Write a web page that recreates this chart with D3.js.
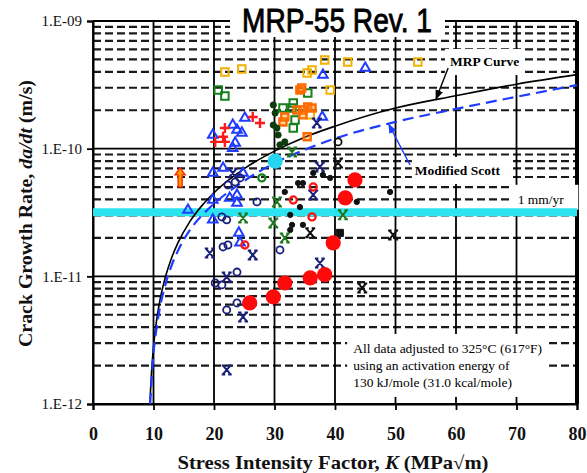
<!DOCTYPE html>
<html><head><meta charset="utf-8">
<script src="https://cdn.jsdelivr.net/npm/d3@7"></script>
<style>body{margin:0;background:#fff}svg{display:block}</style>
</head><body>
<svg id="c" width="587" height="473"></svg>
<script>
// ---------- data ----------
const xTicks = [0,10,20,30,40,50,60,70,80];
const yTickValues = [1e-9,1e-10,1e-11,1e-12];
const yTickLabels = ["1.E-09","1.E-10","1.E-11","1.E-12"];
const oneMmPerYr = 3.17e-11;

const mrpK    = [9.4,9.5,9.7,10,10.5,11,12,13,14,16,18,20,25,30,35,40,50,60,70,80];
const mrpRate = [1e-12,1.25e-12,1.85e-12,2.8e-12,4.48e-12,6.26e-12,1.0e-11,1.4e-11,1.81e-11,2.68e-11,3.58e-11,4.52e-11,6.98e-11,9.57e-11,1.23e-10,1.5e-10,2.08e-10,2.6e-10,3.2e-10,3.8e-10];
const scottK    = [9.45,10,10.5,11,12,13,14,16,18,20,25,30,35,40,50,60,70,80];
const scottRate = [1e-12,2.5e-12,3.9e-12,5.5e-12,8.7e-12,1.22e-11,1.57e-11,2.3e-11,3.0e-11,3.7e-11,5.6e-11,7.7e-11,9.8e-11,1.2e-10,1.62e-10,2.05e-10,2.55e-10,3.15e-10];

const yellowSq = [[21.8,3.99e-10],[24.6,4.21e-10],[38.3,4.95e-10],[42.1,4.77e-10],[36.2,4.13e-10],[35.4,3.92e-10],[39.2,2.88e-10],[35.9,1.84e-10],[53.7,4.77e-10]];
const orangeSq = [[34.2,2.88e-10],[34.5,2.99e-10],[35.5,2.12e-10],[33.7,2.01e-10],[34.7,2.01e-10],[36.2,2.08e-10],[31.4,1.62e-10],[31.7,1.77e-10],[34.7,1.84e-10],[35.4,1.24e-10]];
const greenSq = [[20.7,2.88e-10],[21.8,2.59e-10],[35.5,2.73e-10],[33.1,2.28e-10],[32.9,2.08e-10],[33.4,1.68e-10],[33.1,1.45e-10],[31.4,2.08e-10]];
const greenCirc = [[27.9,5.9e-11]];
const darkDots = [[29.8,2.2e-10],[30.1,1.9e-10],[29.8,1.53e-10],[30.4,1.45e-10],[30.6,1.28e-10],[31.7,1.13e-10],[30.9,1.07e-10]];
const blueTri = [[25.1,1.74e-10],[23.1,1.53e-10],[23.8,1.4e-10],[24.6,1.33e-10],[19.8,1.28e-10],[23.5,1.11e-10],[23.1,1.01e-10],[45.0,4.28e-10],[38.0,3.78e-10],[37.9,1.77e-10],[21.5,7.06e-11],[19.8,6.45e-11],[15.7,3.31e-11],[23.8,4.34e-11],[22.6,4.11e-11],[23.8,3.76e-11],[19.8,3.96e-11],[19.8,2.77e-11],[24.1,2.19e-11],[24.3,1.83e-11],[24.8,6.45e-11]];
const navyCirc = [[27.1,3.83e-11],[22.3,5.2e-11],[23.5,5.48e-11],[24.3,5.9e-11],[21.3,2.92e-11],[22.1,2.77e-11],[21.5,1.7e-11],[22.3,1.76e-11],[30.9,1.61e-11],[23.8,1.08e-11],[20.2,8.87e-12],[21.3,8.57e-12],[22.1,5.46e-12],[23.8,6.19e-12]];
const navyX = [[37.0,1.59e-10],[19.3,1.52e-11],[26.4,1.47e-11],[37.5,1.27e-11],[22.1,9.89e-12],[24.8,4.81e-12],[22.1,1.85e-12],[23.1,6.45e-11],[37.5,7.19e-11],[36.4,4.34e-11]];
const greenX = [[24.8,2.86e-11],[29.8,2.62e-11],[30.4,3.83e-11],[31.7,2.0e-11],[32.9,9.42e-11],[41.3,3.03e-11]];
const blackX = [[35.9,2.19e-11],[40.5,7.73e-11],[44.5,8.11e-12],[49.6,2.11e-11]];
const blackDots = [[36.4,6.45e-11],[38.0,6.22e-11],[39.2,5.9e-11],[34.7,5.38e-11],[33.9,5.38e-11],[31.7,4.58e-11],[32.6,3.03e-11],[32.9,2.53e-11],[34.7,2.53e-11],[32.6,2.31e-11],[34.2,3.49e-11],[43.6,3.83e-11],[49.1,4.58e-11]];
const blackCirc = [[40.5,1.13e-10]];
const blackSq = [[40.8,2.19e-11]];
const redCirc = [[36.2,2.92e-11],[33.1,3.96e-11],[36.4,5.01e-11],[25.1,1.76e-11]];
const redPlus = [[26.4,1.77e-10],[27.6,1.59e-10],[21.8,1.45e-10],[21.5,1.24e-10],[20.2,1.13e-10],[21.8,1.13e-10]];
const bigRed = [[25.9,6.19e-12],[29.8,6.9e-12],[31.7,8.87e-12],[35.9,9.71e-12],[38.3,1.03e-11],[39.7,1.83e-11],[41.7,4.11e-11],[43.3,5.69e-11]];
const cyanDot = [[30.1,8.0e-11]];
const orangeArrow = [[14.4,5.9e-11]];

// ---------- layout ----------
const L=93,R=577,T=21,B=404;
const serif = "'Liberation Serif','Times New Roman',Times,serif";
const svg = d3.select("#c");
svg.append("rect").attr("width",587).attr("height",473).attr("fill","#fff");
const x = d3.scaleLinear().domain([0,80]).range([L,R]);
const y = d3.scaleLog().domain([1e-12,1e-9]).range([B,T]);

// grid
const grid = svg.append("g");
const minor = y.ticks().filter(v => !yTickValues.some(t => Math.abs(v-t)/t < 1e-6));
grid.selectAll("line.mn").data(minor).join("line")
  .attr("x1",L).attr("x2",R).attr("y1",d=>y(d)).attr("y2",d=>y(d))
  .attr("stroke","#1a1a1a").attr("stroke-width",2.2).attr("stroke-dasharray","8,4");
grid.selectAll("line.mj").data(yTickValues).join("line")
  .attr("x1",L).attr("x2",R).attr("y1",d=>y(d)).attr("y2",d=>y(d))
  .attr("stroke","#000").attr("stroke-width",1.8);
grid.selectAll("line.v").data(xTicks).join("line")
  .attr("x1",d=>x(d)).attr("x2",d=>x(d)).attr("y1",T).attr("y2",B)
  .attr("stroke","#000").attr("stroke-width",d=>d===80?4:1.8);

// axes
const gx = svg.append("g").attr("transform",`translate(0,${B})`)
  .call(d3.axisBottom(x).tickValues(xTicks).tickSize(6).tickPadding(17).tickFormat(d3.format("d")));
const gy = svg.append("g").attr("transform",`translate(${L},0)`)
  .call(d3.axisLeft(y).tickValues(yTickValues).tickSize(6).tickPadding(5).tickFormat((d,i)=>yTickLabels[i]));
[gx,gy].forEach(g=>{
  g.select(".domain").attr("stroke","#000").attr("stroke-width",2);
  g.selectAll(".tick line").attr("stroke","#000").attr("stroke-width",1.8);
});
gx.selectAll("text").attr("font-family",serif).attr("font-size",18).attr("font-weight","bold").attr("fill","#111");
gy.selectAll("text").attr("font-family",serif).attr("font-size",15).attr("fill","#111");

// label backgrounds helper
const labels = svg.append("g");
function boxedText(g, tx, ty, lines, opt){
  const grp = g.append("g");
  const bg = grp.append("rect").attr("fill","#fff");
  const t = grp.append("text").attr("x",tx).attr("y",ty)
    .attr("font-family",serif).attr("font-size",opt.size).attr("font-weight",opt.weight||"normal")
    .attr("fill",opt.color||"#000");
  lines.forEach((ln,i)=>t.append("tspan").attr("x",tx).attr("dy",i?opt.lh:0).text(ln));
  const bb = t.node().getBBox();
  const p = opt.pad;
  bg.attr("x",bb.x-p[3]).attr("y",bb.y-p[0]).attr("width",bb.width+p[1]+p[3]).attr("height",bb.height+p[0]+p[2]);
  return grp;
}

// cyan 1 mm/yr line
svg.append("line").attr("x1",x(0)).attr("x2",x(80)).attr("y1",y(oneMmPerYr)).attr("y2",y(oneMmPerYr))
  .attr("stroke","#2de3ef").attr("stroke-width",8);

// white label boxes over grid
boxedText(labels, x(59.0), y(4.44e-10), ["MRP Curve"], {size:13.5, weight:"bold", pad:[5,5,6,5]});
boxedText(labels, x(53.2), y(6.22e-11), ["Modified Scott"], {size:13.5, weight:"bold", pad:[6,11,6,3]});
boxedText(labels, x(70.2), y(3.7e-11), ["1 mm/yr"], {size:13.5, pad:[7,14,3,5]});
boxedText(labels, x(43.0), y(2.51e-12), ["All data adjusted to 325°C (617°F)","using an activation energy of","130 kJ/mole (31.0 kcal/mole)"], {size:13.5, lh:17, pad:[7,7,7,6]});

// curves
const line = d3.line().x(d=>x(d[0])).y(d=>y(d[1])).curve(d3.curveMonotoneX);
svg.append("path").datum(mrpK.map((k,i)=>[k,mrpRate[i]])).attr("d",line)
  .attr("fill","none").attr("stroke","#000").attr("stroke-width",1.6);
svg.append("path").datum(scottK.map((k,i)=>[k,scottRate[i]])).attr("d",line)
  .attr("fill","none").attr("stroke","#1f3cff").attr("stroke-width",2.2).attr("stroke-dasharray","11,6");

// arrows
const defs = svg.append("defs");
[["ak","#000"],["ab","#1f3cff"]].forEach(([id,c])=>{
  defs.append("marker").attr("id",id).attr("viewBox","0 0 10 10").attr("refX",9).attr("refY",5)
    .attr("markerWidth",7).attr("markerHeight",7).attr("orient","auto")
    .append("path").attr("d","M0,1L10,5L0,9Z").attr("fill",c);
});
svg.append("line").attr("x1",x(58.7)).attr("y1",y(4.28e-10)).attr("x2",x(56.7)).attr("y2",y(2.45e-10))
  .attr("stroke","#000").attr("stroke-width",1.4).attr("marker-end","url(#ak)");
svg.append("line").attr("x1",x(52.4)).attr("y1",y(7.45e-11)).attr("x2",x(48.9)).attr("y2",y(1.55e-10))
  .attr("stroke","#1f3cff").attr("stroke-width",1.4).attr("marker-end","url(#ab)");

// markers
const mk = svg.append("g");
const pos = d => `translate(${x(d[0])},${y(d[1])})`;
function sym(data, type, size, stroke, fill, sw){
  mk.append("g").selectAll("path").data(data).join("path")
    .attr("transform",pos).attr("d",d3.symbol(type,size)())
    .attr("fill",fill).attr("stroke",stroke).attr("stroke-width",sw);
}
const xPath = "M-3.5,-4L3.5,4M3.5,-4L-3.5,4M-5,-4.5H-1.5M1.5,-4.5H5M-5,4.5H-1.5M1.5,4.5H5";
function xs(data, color){
  mk.append("g").selectAll("path").data(data).join("path")
    .attr("transform",pos).attr("d",xPath).attr("fill","none").attr("stroke",color).attr("stroke-width",2);
}
sym(yellowSq, d3.symbolSquare, 56, "#f2b100", "none", 2);
sym(greenSq, d3.symbolSquare, 56, "#16801c", "none", 2);
sym(orangeSq, d3.symbolSquare, 50, "#ff6a00", "rgba(255,140,0,0.35)", 2.4);
sym(darkDots, d3.symbolCircle, 30, "#0d3d0d", "#0d3d0d", 1);
sym(greenCirc, d3.symbolCircle, 40, "#16801c", "none", 2.2);
sym(blueTri, d3.symbolTriangle, 40, "#1f3cff", "none", 2);
sym(navyCirc, d3.symbolCircle, 40, "#1a1f7a", "none", 1.8);
xs(navyX, "#1a1f7a");
xs(greenX, "#1f7a1f");
xs(blackX, "#111");
sym(blackDots, d3.symbolCircle, 22, "#111", "#111", 1);
sym(blackCirc, d3.symbolCircle, 40, "#111", "none", 1.8);
sym(blackSq, d3.symbolSquare, 50, "#111", "#111", 1);
sym(redCirc, d3.symbolCircle, 40, "#ff1010", "none", 2.2);
mk.append("g").selectAll("path").data(redPlus).join("path")
  .attr("transform",pos).attr("d","M-5,0H5M0,-5V5").attr("stroke","#ff1a1a").attr("stroke-width",2.4);
mk.append("g").selectAll("circle").data(bigRed).join("circle")
  .attr("cx",d=>x(d[0])).attr("cy",d=>y(d[1])).attr("r",7.6).attr("fill","#ff0a0a");
mk.append("g").selectAll("circle").data(cyanDot).join("circle")
  .attr("cx",d=>x(d[0])).attr("cy",d=>y(d[1])).attr("r",7.6).attr("fill","#27d4ef");
mk.append("g").selectAll("path").data(orangeArrow).join("path")
  .attr("transform",pos).attr("d","M0,-10L5,-3L2,-3L2,9L-2,9L-2,-3L-5,-3Z")
  .attr("fill","#ff9a00").attr("stroke","#ff2a00").attr("stroke-width",1.4);

// axis titles
const yt = svg.append("text").attr("transform",`translate(32,${(T+B)/2+1}) rotate(-90)`)
  .attr("text-anchor","middle").attr("font-family",serif).attr("font-size",19).attr("font-weight","bold")
  .attr("fill","#111").attr("textLength",267).attr("lengthAdjust","spacingAndGlyphs");
yt.append("tspan").text("Crack Growth Rate, ");
yt.append("tspan").attr("font-style","italic").text("da/dt");
yt.append("tspan").text(" (m/s)");
const xt = svg.append("text").attr("x",(L+R)/2-2).attr("y",469)
  .attr("text-anchor","middle").attr("font-family",serif).attr("font-size",19).attr("font-weight","bold")
  .attr("fill","#111").attr("textLength",311).attr("lengthAdjust","spacingAndGlyphs");
xt.append("tspan").text("Stress Intensity Factor, ");
xt.append("tspan").attr("font-style","italic").text("K");
xt.append("tspan").text(" (MPa\u221Am)");

// title
svg.append("rect").attr("x",230).attr("y",0).attr("width",215).attr("height",37).attr("fill","#fff");
svg.append("text").attr("x",242).attr("y",32)
  .attr("font-family","'Liberation Sans Narrow','Liberation Sans',Arial,sans-serif")
  .attr("font-size",34).attr("fill","#000").attr("stroke","#000").attr("stroke-width",0.9)
  .attr("textLength",190).attr("lengthAdjust","spacingAndGlyphs")
  .text("MRP-55 Rev. 1");
</script>
</body></html>
